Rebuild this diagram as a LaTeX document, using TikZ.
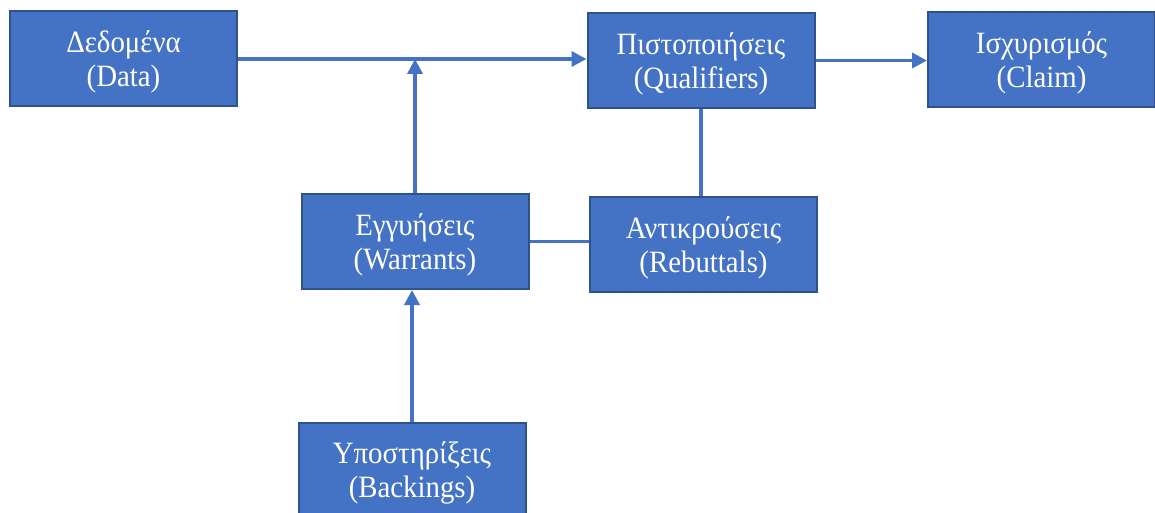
\documentclass[tikz,border=0pt]{standalone}
\usepackage{fontspec}
\setmainfont{Liberation Serif}[FakeStretch=0.93]
\usepackage{xcolor}
\usepackage{tikz}
\usetikzlibrary{arrows.meta,positioning,calc}
\definecolor{bx}{HTML}{4472C4}
\definecolor{bd}{HTML}{2F528F}
\definecolor{ln}{HTML}{4472C4}
\tikzset{
  tbox/.style={draw=bd, fill=bx, line width=2pt, text=white, align=center,
    minimum width=227pt, minimum height=95pt, inner sep=0pt, text depth=0pt,
    font=\fontsize{31}{34}\selectfont},
  link/.style={draw=ln, line width=3.5pt},
  arr/.style={link, -{Triangle[length=15pt,width=15pt]}}
}

\begin{document}
\begin{tikzpicture}[x=1pt, y=-1pt]
  \clip (0,0) rectangle (1155,513);
  % boxes
  \node[tbox] (data)  at (123.5,59)   {Δεδομένα\\(Data)};
  \node[tbox] (qual)  at (701,60.5)   {Πιστοποιήσεις\\(Qualifiers)};
  \node[tbox] (claim) at (1041.5,59.5) {Ισχυρισμός\\(Claim)};
  \node[tbox] (warr)  at (415,241.5)  {Εγγυήσεις\\(Warrants)};
  \node[tbox] (rebut) at (703.5,244.5) {Αντικρούσεις\\(Rebuttals)};
  \node[tbox] (back)  at (412,470)    {Υποστηρίξεις\\(Backings)};
  % connectors
  \draw[arr] (data.east) -- (data.east -| qual.west);
  \draw[arr] (qual.east) -- (qual.east -| claim.west);
  \draw[arr] (warr.north) -- (warr.north |- data.east);
  \draw[arr] (back.north) -- (back.north |- warr.south);
  \draw[link] (qual.south) -- (qual.south |- rebut.north);
  \draw[link] (warr.east) -- (warr.east -| rebut.west);
\end{tikzpicture}
\end{document}
